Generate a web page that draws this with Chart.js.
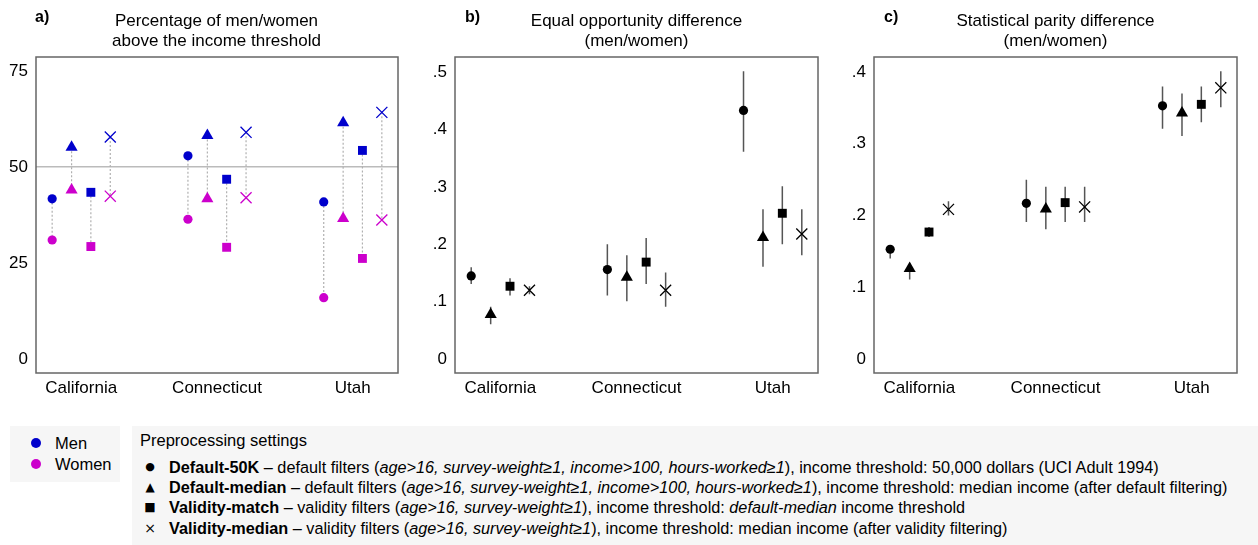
<!DOCTYPE html>
<html>
<head>
<meta charset="utf-8">
<script src="https://cdn.jsdelivr.net/npm/chart.js@4.4.1/dist/chart.umd.min.js"></script>
<style>
  html, body { margin: 0; padding: 0; }
  body { width: 1258px; height: 545px; position: relative; overflow: hidden; background: #fff;
         font-family: "Liberation Sans", Arial, Helvetica, sans-serif; color: #000; }
  canvas { position: absolute; top: 0; }
  .plab { position: absolute; top: 8px; font-size: 16px; font-weight: bold; line-height: 18px; }
  .ttl { position: absolute; top: 11px; width: 363px; text-align: center; font-size: 17px; line-height: 20px; }
  .box { position: absolute; background: #f6f6f6; }
  .sx { position: absolute; font-size: 16.5px; line-height: 20px; }
  .dot { position: absolute; width: 10px; height: 10px; border-radius: 50%; }
  .row { position: absolute; left: 169px; font-size: 16.25px; line-height: 20px; white-space: nowrap; }
  .mk { position: absolute; left: 142px; width: 16px; text-align: center; font-family: "DejaVu Sans", sans-serif; line-height: 20px; }
</style>
</head>
<body>
<canvas id="chartA" width="420" height="400" style="left:0px;width:420px;height:400px"></canvas>
<canvas id="chartB" width="420" height="400" style="left:420px;width:420px;height:400px"></canvas>
<canvas id="chartC" width="420" height="400" style="left:838px;width:420px;height:400px"></canvas>

<div class="plab" style="left:35px">a)</div>
<div class="plab" style="left:465px">b)</div>
<div class="plab" style="left:884px">c)</div>
<div class="ttl" style="left:35px">Percentage of men/women<br>above the income threshold</div>
<div class="ttl" style="left:455px">Equal opportunity difference<br>(men/women)</div>
<div class="ttl" style="left:874px">Statistical parity difference<br>(men/women)</div>

<div class="box" style="left:10px;top:426px;width:110px;height:56px"></div>
<div class="dot" style="left:31px;top:438px;background:#0000cc"></div>
<div class="sx" style="left:55px;top:433px">Men</div>
<div class="dot" style="left:31px;top:459px;background:#cc00cc"></div>
<div class="sx" style="left:55px;top:454px">Women</div>

<div class="box" style="left:132px;top:426px;width:1126px;height:119px"></div>
<div class="sx" style="left:140px;top:430px">Preprocessing settings</div>
<div class="mk" style="top:457px;font-size:11px">●</div>
<div class="row" style="top:457px"><b>Default-50K</b> – default filters (<i>age&gt;16, survey-weight≥1, income&gt;100, hours-worked≥1</i>), income threshold: 50,000 dollars (UCI Adult 1994)</div>
<div class="mk" style="top:477px;font-size:12px">▲</div>
<div class="row" style="top:477px"><b>Default-median</b> – default filters (<i>age&gt;16, survey-weight≥1, income&gt;100, hours-worked≥1</i>), income threshold: median income (after default filtering)</div>
<div class="mk" style="top:497px;font-size:12px">■</div>
<div class="row" style="top:497px"><b>Validity-match</b> – validity filters (<i>age&gt;16, survey-weight≥1</i>), income threshold: <i>default-median</i> income threshold</div>
<div class="mk" style="top:518px;font-size:14px">×</div>
<div class="row" style="top:518px"><b>Validity-median</b> – validity filters (<i>age&gt;16, survey-weight≥1</i>), income threshold: median income (after validity filtering)</div>

<script>
// ---------------- DATA ----------------
const categories = ['California', 'Connecticut', 'Utah'];
const settings = ['Default-50K', 'Default-median', 'Validity-match', 'Validity-median'];

// Panel a: percentage above income threshold (rows = settings, cols = states)
const menPct = [
  [41.7, 52.9, 40.9],
  [55.1, 58.2, 61.5],
  [43.4, 46.8, 54.3],
  [57.8, 59.0, 64.2]
];
const womenPct = [
  [31.0, 36.4, 16.0],
  [44.0, 41.7, 36.6],
  [29.3, 29.1, 26.2],
  [42.4, 42.0, 36.2]
];

// Panel b: equal opportunity difference
const eodEstimate = [
  [0.145, 0.156, 0.433],
  [0.078, 0.1425, 0.212],
  [0.127, 0.169, 0.254],
  [0.120, 0.120, 0.218]
];
const eodLower = [
  [0.131, 0.111, 0.361],
  [0.061, 0.101, 0.161],
  [0.111, 0.131, 0.200],
  [0.113, 0.0915, 0.181]
];
const eodUpper = [
  [0.160, 0.200, 0.501],
  [0.0915, 0.181, 0.261],
  [0.141, 0.211, 0.301],
  [0.127, 0.151, 0.261]
];

// Panel c: statistical parity difference
const spdEstimate = [
  [0.153, 0.217, 0.353],
  [0.126, 0.209, 0.343],
  [0.177, 0.218, 0.355],
  [0.2086, 0.212, 0.378]
];
const spdLower = [
  [0.140, 0.191, 0.321],
  [0.111, 0.181, 0.311],
  [0.170, 0.191, 0.330],
  [0.200, 0.191, 0.351]
];
const spdUpper = [
  [0.159, 0.250, 0.380],
  [0.133, 0.240, 0.370],
  [0.184, 0.240, 0.380],
  [0.220, 0.240, 0.401]
];

// Tick values and labels
const yTicksA = [0, 25, 50, 75];
const yTickLabelsA = ['0', '25', '50', '75'];
const yTicksB = [0, 0.1, 0.2, 0.3, 0.4, 0.5];
const yTickLabelsB = ['0', '.1', '.2', '.3', '.4', '.5'];
const yTicksC = [0, 0.1, 0.2, 0.3, 0.4];
const yTickLabelsC = ['0', '.1', '.2', '.3', '.4'];

// ---------------- STYLE ----------------
const MEN = '#0000cc', WOMEN = '#cc00cc', BLACK = '#000000';
const markerStyle = ['circle', 'triangle', 'rect', 'crossRot'];
const markerRadius = [4.6, 7, 6.3, 7.8];
const settingOffset = [-0.214, -0.071, 0.071, 0.214];
const groupPos = [1, 2, 3];

const framePlugin = {
  id: 'frame',
  afterDatasetsDraw(chart) {
    const a = chart.chartArea, ctx = chart.ctx;
    ctx.save();
    ctx.strokeStyle = '#666';
    ctx.lineWidth = 1.5;
    ctx.strokeRect(a.left, a.top, a.right - a.left, a.bottom - a.top);
    ctx.restore();
  }
};

function markerDataset(s, values, color) {
  return {
    type: 'scatter',
    label: settings[s],
    data: values.map((v, g) => ({ x: groupPos[g] + settingOffset[s], y: v })),
    pointStyle: markerStyle[s],
    pointRadius: markerRadius[s],
    pointBackgroundColor: color,
    pointBorderColor: color,
    pointBorderWidth: markerStyle[s] === 'crossRot' ? 1.3 : 0,
    showLine: false,
    order: 0
  };
}

function segmentDataset(s, fromVals, toVals, color, width, dash) {
  const pts = [];
  fromVals.forEach((v, g) => {
    const x = groupPos[g] + settingOffset[s];
    pts.push({ x: x, y: v }, { x: x, y: toVals[g] }, { x: x, y: null });
  });
  return {
    type: 'line',
    label: settings[s] + ' range',
    data: pts,
    borderColor: color,
    borderWidth: width,
    borderDash: dash,
    pointRadius: 0,
    showLine: true,
    spanGaps: false,
    fill: false,
    order: 10
  };
}

function makeOptions(yMin, yMax, yTicks, yLabels, gridAt) {
  return {
    responsive: false,
    animation: false,
    devicePixelRatio: 1,
    layout: { padding: { top: 57, right: 22, bottom: 0, left: 0 } },
    plugins: { legend: { display: false }, tooltip: { enabled: false }, title: { display: false } },
    scales: {
      x: {
        type: 'linear',
        min: 0.667, max: 3.333,
        afterBuildTicks: (sc) => { sc.ticks = groupPos.map(v => ({ value: v })); },
        afterFit: (sc) => { sc.height = 27; },
        ticks: {
          callback: (v) => categories[Math.round(v) - 1],
          font: { family: 'Liberation Sans', size: 17 },
          color: '#000', padding: 5, maxRotation: 0, autoSkip: false
        },
        grid: { display: false, drawTicks: false },
        border: { display: false }
      },
      y: {
        type: 'linear',
        min: yMin, max: yMax,
        afterBuildTicks: (sc) => { sc.ticks = yTicks.map(v => ({ value: v })); },
        afterFit: (sc) => { sc.width = 36; },
        ticks: {
          callback: (v, i) => yLabels[i],
          font: { family: 'Liberation Sans', size: 17 },
          color: '#000', padding: 8
        },
        grid: {
          drawTicks: false,
          lineWidth: 1.5,
          color: (c) => (gridAt !== null && c.tick && c.tick.value === gridAt) ? '#bbbbbb' : 'rgba(0,0,0,0)'
        },
        border: { display: false }
      }
    }
  };
}

// Panel a
const dsA = [];
for (let s = 0; s < 4; s++) {
  dsA.push(segmentDataset(s, menPct[s], womenPct[s], '#b0b0b0', 1.2, [2, 2]));
}
for (let s = 0; s < 4; s++) {
  dsA.push(markerDataset(s, menPct[s], MEN));
  dsA.push(markerDataset(s, womenPct[s], WOMEN));
}
new Chart(document.getElementById('chartA'), {
  type: 'scatter',
  data: { datasets: dsA },
  options: makeOptions(-3.6, 78.6, yTicksA, yTickLabelsA, 50),
  plugins: [framePlugin]
});

// Panel b
const dsB = [];
for (let s = 0; s < 4; s++) dsB.push(segmentDataset(s, eodLower[s], eodUpper[s], '#555555', 1.5, []));
for (let s = 0; s < 4; s++) dsB.push(markerDataset(s, eodEstimate[s], BLACK));
const optB = makeOptions(-0.024, 0.526, yTicksB, yTickLabelsB, null);
optB.scales.y.afterFit = (sc) => { sc.width = 35; };
optB.layout.padding.right = 22;
new Chart(document.getElementById('chartB'), {
  type: 'scatter',
  data: { datasets: dsB },
  options: optB,
  plugins: [framePlugin]
});

// Panel c
const dsC = [];
for (let s = 0; s < 4; s++) dsC.push(segmentDataset(s, spdLower[s], spdUpper[s], '#555555', 1.5, []));
for (let s = 0; s < 4; s++) dsC.push(markerDataset(s, spdEstimate[s], BLACK));
const optC = makeOptions(-0.0195, 0.421, yTicksC, yTickLabelsC, null);
optC.layout.padding.right = 21;
new Chart(document.getElementById('chartC'), {
  type: 'scatter',
  data: { datasets: dsC },
  options: optC,
  plugins: [framePlugin]
});
</script>
</body>
</html>
